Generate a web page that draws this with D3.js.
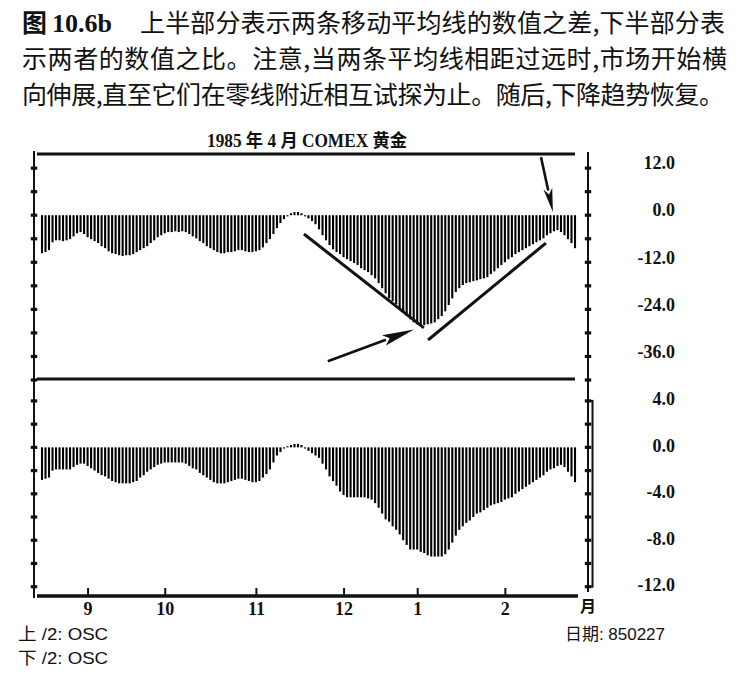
<!DOCTYPE html>
<html>
<head>
<meta charset="utf-8">
<script src="https://cdn.jsdelivr.net/npm/d3@7/dist/d3.min.js"></script>
<style>
  html, body { margin: 0; padding: 0; background: #fff; }
  svg { display: block; }
</style>
</head>
<body>
<svg id="chart" width="752" height="680"></svg>
<script>
// ---------------- DATA ----------------
const captionLines = [
  "上半部分表示两条移动平均线的数值之差,下半部分表",
  "示两者的数值之比。注意,当两条平均线相距过远时,市场开始横",
  "向伸展,直至它们在零线附近相互试探为止。随后,下降趋势恢复。"
];
const figLabel = "图";
const figNumber = "10.6b";
const chartTitle = "1985 年 4 月 COMEX 黄金";

// Upper panel: difference of the two moving averages (one bar per trading day)
const diffValues = [
  -9.7,-9.4,-8.9,-6.9,-6.4,-6.4,-6.6,-6.4,-6.1,-5.4,
  -4.6,-4.3,-4.8,-5.6,-6.1,-6.6,-7.1,-7.9,-8.4,-9.2,
  -9.7,-9.9,-10.2,-10.4,-10.2,-10.2,-9.9,-9.4,-8.9,-8.4,
  -7.9,-7.1,-6.4,-5.6,-5.1,-4.6,-4.3,-4.3,-4.1,-4.3,
  -4.1,-4.3,-4.8,-5.4,-5.9,-6.6,-7.1,-7.9,-8.4,-8.9,
  -9.4,-9.7,-9.7,-9.4,-9.4,-9.2,-8.9,-8.9,-9.2,-9.4,
  -9.4,-9.2,-8.9,-8.2,-7.1,-6.1,-4.8,-3.3,-2.0,-1.0,
  -0.3,0.5,0.8,0.8,0.5,-0.3,-0.8,-1.5,-2.3,-3.6,
  -5.1,-6.4,-7.6,-8.7,-9.4,-9.9,-10.7,-11.2,-11.7,-12.2,
  -12.7,-13.5,-14.0,-14.5,-15.3,-16.1,-17.3,-18.6,-19.9,-21.2,
  -21.9,-22.7,-23.7,-24.7,-25.7,-26.5,-27.3,-27.8,-28.0,-28.0,
  -27.8,-27.6,-27.3,-26.5,-25.7,-24.5,-22.9,-21.2,-19.6,-18.6,
  -17.8,-17.3,-17.1,-16.8,-16.6,-16.3,-16.1,-15.8,-15.0,-14.3,
  -13.5,-12.7,-12.0,-11.2,-10.7,-9.9,-9.4,-8.9,-8.4,-7.9,
  -7.4,-6.9,-6.4,-5.9,-5.1,-4.6,-4.1,-3.8,-4.3,-5.1,
  -6.1,-7.1,-8.4
];

// Lower panel: ratio oscillator of the two moving averages
const ratioValues = [
  -2.8,-2.7,-2.6,-2.0,-1.9,-1.9,-1.9,-1.9,-1.9,-1.7,
  -1.5,-1.4,-1.4,-1.6,-1.8,-2.0,-2.2,-2.4,-2.5,-2.7,
  -2.9,-3.0,-3.1,-3.1,-3.1,-3.1,-3.0,-2.9,-2.6,-2.4,
  -2.1,-1.9,-1.7,-1.5,-1.4,-1.3,-1.3,-1.3,-1.3,-1.3,
  -1.3,-1.4,-1.6,-1.8,-1.9,-2.2,-2.4,-2.6,-2.8,-3.0,
  -3.1,-3.1,-3.1,-3.0,-2.9,-2.8,-2.7,-2.7,-2.8,-2.9,
  -3.0,-3.0,-2.9,-2.6,-2.3,-1.9,-1.3,-0.7,-0.4,-0.1,
  0.1,0.2,0.3,0.3,0.2,-0.1,-0.3,-0.5,-0.7,-0.9,
  -1.4,-1.9,-2.5,-2.9,-3.3,-3.8,-4.1,-4.3,-4.3,-4.3,
  -4.3,-4.3,-4.3,-4.4,-4.5,-4.8,-5.2,-5.7,-6.2,-6.4,
  -6.8,-7.1,-7.5,-8.0,-8.4,-8.8,-8.8,-8.8,-9.0,-9.1,
  -9.3,-9.4,-9.4,-9.4,-9.4,-9.2,-8.8,-8.2,-7.6,-7.1,
  -6.8,-6.5,-6.3,-6.0,-5.7,-5.6,-5.4,-5.2,-5.0,-4.9,
  -4.8,-4.7,-4.5,-4.4,-4.3,-4.0,-3.8,-3.6,-3.4,-3.2,
  -3.0,-2.8,-2.6,-2.4,-2.1,-1.9,-1.8,-1.6,-1.5,-1.7,
  -2.1,-2.5,-3.0
];

const monthLabels = ["9", "10", "11", "12", "1", "2"];
const monthStartIndex = [13, 35, 61, 86, 107, 132];
const monthUnit = "月";

const diffTickLabels = [12, 0, -12, -24, -36];
const diffMinorTicks = [12, 6, 0, -6, -12, -18, -24, -30, -36, -42];
const ratioTickLabels = [4, 0, -4, -8, -12];
const ratioMinorTicks = [4, 2, 0, -2, -4, -6, -8, -10, -12];

const footLeft = ["上 /2: OSC", "下 /2: OSC"];
const footRight = "日期: 850227";

// annotation lines (in data coords: [bar index, value]) drawn in the upper panel
const trendLines = [
  [[74.7, -4.8], [108.9, -28.7]],
  [[110.1, -31.8], [143.7, -7.1]]
];
const arrows = [
  [[81.5, -37.2], [106.1, -29.1]],
  [[142.3, 14.8], [145.7, 0.8]]
];

// ---------------- LAYOUT ----------------
const svg = d3.select("#chart");
const serif = "'Liberation Serif', 'Noto Sans CJK SC', serif";
const cjk = "'Noto Sans CJK SC', sans-serif";
const sans = "'Liberation Sans', 'Noto Sans CJK SC', sans-serif";
const ink = "#111";

const plotL = 37, plotR = 578;
const axisLX = 34, axisRX = 588;
const topY0 = 154, sepY = 379, botY1 = 596;

const x = d3.scaleLinear().domain([0, diffValues.length - 1]).range([42, 575]);
const yTop = d3.scaleLinear().domain([-42, 15.6]).range([380, 154]);
const yBot = d3.scaleLinear().domain([-12.8, 5.8]).range([596, 380]);

// ---------------- CAPTION ----------------
const cap = svg.append("g").attr("fill", ink);
cap.append("text").attr("x", 22).attr("y", 32)
  .attr("font-family", cjk).attr("font-weight", "bold").attr("font-size", 25)
  .text(figLabel);
cap.append("text").attr("x", 52).attr("y", 32)
  .attr("font-family", serif).attr("font-weight", "bold").attr("font-size", 26)
  .text(figNumber);
const capPos = [[140, 32, 585], [22, 68, 705], [22, 104, 702]];
captionLines.forEach((t, i) => {
  cap.append("text").attr("x", capPos[i][0]).attr("y", capPos[i][1])
    .attr("font-family", cjk).attr("font-size", 25)
    .attr("textLength", capPos[i][2]).attr("lengthAdjust", "spacing")
    .text(t);
});

// title
svg.append("text").attr("x", 307).attr("y", 147)
  .attr("text-anchor", "middle")
  .attr("font-family", serif).attr("font-weight", "bold").attr("font-size", 18)
  .attr("textLength", 200).attr("lengthAdjust", "spacingAndGlyphs")
  .attr("fill", ink).text(chartTitle);

// ---------------- FRAME ----------------
const frame = svg.append("g").attr("stroke", ink).attr("fill", "none");
frame.append("line").attr("x1", plotL).attr("x2", 575).attr("y1", topY0).attr("y2", topY0).attr("stroke-width", 3.2);
frame.append("line").attr("x1", plotL).attr("x2", 575).attr("y1", sepY).attr("y2", sepY).attr("stroke-width", 3.2);
frame.append("line").attr("x1", plotL).attr("x2", plotR).attr("y1", botY1).attr("y2", botY1).attr("stroke-width", 3.6);
frame.append("line").attr("x1", axisLX).attr("x2", axisLX).attr("y1", 151).attr("y2", 598).attr("stroke-width", 2);
frame.append("line").attr("x1", axisRX).attr("x2", axisRX).attr("y1", 152).attr("y2", 592).attr("stroke-width", 2);
// bracket on the lower right scale
frame.append("rect")
  .attr("x", axisRX).attr("y", yBot(4))
  .attr("width", 4.5).attr("height", yBot(-12) - yBot(4))
  .attr("stroke-width", 2);

// minor tick marks on both vertical axes
const tickG = svg.append("g").attr("stroke", ink).attr("stroke-width", 3.2);
function ticks(vals, scale) {
  [axisLX, axisRX].forEach(ax => {
    tickG.selectAll(null).data(vals).enter().append("line")
      .attr("x1", ax - 3.2).attr("x2", ax + 3.2)
      .attr("y1", d => scale(d)).attr("y2", d => scale(d));
  });
}
ticks(diffMinorTicks, yTop);
ticks(ratioMinorTicks, yBot);

// ---------------- BARS ----------------
function bars(vals, scale) {
  svg.append("g").attr("fill", "#000")
    .selectAll("rect").data(vals).enter().append("rect")
    .attr("x", (d, i) => x(i) - 1.05)
    .attr("width", 2.1)
    .attr("y", d => Math.min(scale(d), scale(0)))
    .attr("height", d => Math.max(0.8, Math.abs(scale(d) - scale(0))));
}
bars(diffValues, yTop);
bars(ratioValues, yBot);

// ---------------- AXES (labels) ----------------
const fmt = d => d.toFixed(1);
function rightAxis(scale, vals, dy) {
  const g = svg.append("g")
    .attr("transform", `translate(${axisRX},${dy})`)
    .call(d3.axisRight(scale).tickValues(vals).tickFormat(fmt).tickSize(0).tickPadding(87));
  g.select(".domain").remove();
  g.selectAll("text")
    .attr("text-anchor", "end")
    .attr("font-family", serif).attr("font-weight", "bold").attr("font-size", 18)
    .attr("fill", ink);
}
rightAxis(yTop, diffTickLabels, -5);
rightAxis(yBot, ratioTickLabels, -2);

const xAxis = svg.append("g")
  .attr("transform", `translate(0,${botY1})`)
  .call(d3.axisBottom(x).tickValues(monthStartIndex)
    .tickFormat((d, i) => monthLabels[i]).tickSizeInner(-8).tickSizeOuter(0).tickPadding(6));
xAxis.select(".domain").remove();
xAxis.selectAll("line").attr("stroke", ink).attr("stroke-width", 2);
xAxis.selectAll("text")
  .attr("font-family", serif).attr("font-weight", "bold").attr("font-size", 18)
  .attr("fill", ink);

svg.append("text").attr("x", axisRX).attr("y", 612)
  .attr("text-anchor", "middle")
  .attr("font-family", cjk).attr("font-weight", "bold").attr("font-size", 16)
  .attr("fill", ink).text(monthUnit);

// ---------------- FOOTER ----------------
footLeft.forEach((t, i) => {
  svg.append("text").attr("x", 18).attr("y", 640 + i * 24)
    .attr("font-family", sans).attr("font-size", 17)
    .attr("textLength", 90).attr("lengthAdjust", "spacingAndGlyphs")
    .attr("fill", ink).text(t);
});
svg.append("text").attr("x", 565).attr("y", 640)
  .attr("font-family", sans).attr("font-size", 17)
  .attr("textLength", 100).attr("lengthAdjust", "spacingAndGlyphs")
  .attr("fill", ink).text(footRight);

// ---------------- ANNOTATIONS ----------------
const ann = svg.append("g");
trendLines.forEach(seg => {
  ann.append("line")
    .attr("x1", x(seg[0][0])).attr("y1", yTop(seg[0][1]))
    .attr("x2", x(seg[1][0])).attr("y2", yTop(seg[1][1]))
    .attr("stroke", ink).attr("stroke-width", 3);
});
arrows.forEach((seg, k) => {
  const x0 = x(seg[0][0]), y0 = yTop(seg[0][1]);
  const x1 = x(seg[1][0]), y1 = yTop(seg[1][1]);
  const len = Math.hypot(x1 - x0, y1 - y0);
  const ux = (x1 - x0) / len, uy = (y1 - y0) / len;
  const headL = k === 0 ? 32 : 24, headW = k === 0 ? 5.5 : 4.5;
  const bx = x1 - ux * headL, by = y1 - uy * headL;
  ann.append("line").attr("x1", x0).attr("y1", y0).attr("x2", bx + ux * 2).attr("y2", by + uy * 2)
    .attr("stroke", ink).attr("stroke-width", 2.6);
  ann.append("path")
    .attr("d", `M${x1},${y1}L${bx - uy * headW},${by + ux * headW}L${bx + ux * 6},${by + uy * 6}L${bx + uy * headW},${by - ux * headW}Z`)
    .attr("fill", ink);
});
</script>
</body>
</html>
